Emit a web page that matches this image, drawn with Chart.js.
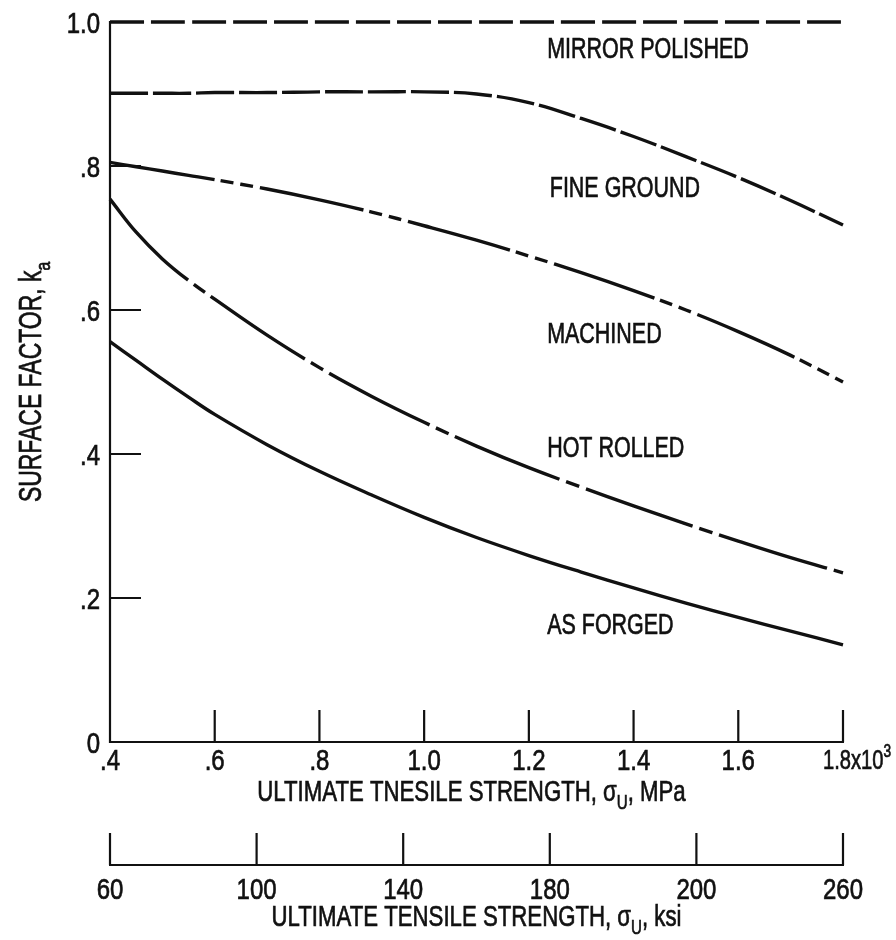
<!DOCTYPE html>
<html>
<head>
<meta charset="UTF-8">
<title>Surface factor vs ultimate tensile strength</title>
<style>
  html, body { margin: 0; padding: 0; background: #fff; }
  #wrap { width: 896px; height: 940px; }
</style>
</head>
<body>
<div id="wrap"><canvas id="surfaceChart" width="896" height="940"></canvas></div>
<script src="https://cdn.jsdelivr.net/npm/chart.js"></script>
<script>
// ultimate tensile strength, MPa x10^3
const strengthMPa = [0.4, 0.45, 0.5, 0.55, 0.6, 0.7, 0.8, 0.9, 1.0, 1.1, 1.2, 1.3, 1.4, 1.5, 1.6, 1.7, 1.8];

// surface factor k_a for each finish
const mirrorPolished = [1.0, 1.0, 1.0, 1.0, 1.0, 1.0, 1.0, 1.0, 1.0, 1.0, 1.0, 1.0, 1.0, 1.0, 1.0, 1.0, 1.0];
const fineGround = [0.901, 0.901, 0.901, 0.901, 0.902, 0.902, 0.903, 0.903, 0.903, 0.900, 0.888, 0.866, 0.841, 0.813, 0.784, 0.752, 0.718];
const machined = [0.805, 0.799, 0.793, 0.787, 0.781, 0.768, 0.753, 0.736, 0.717, 0.697, 0.675, 0.652, 0.627, 0.600, 0.570, 0.537, 0.500];
const hotRolled = [0.754, 0.708, 0.671, 0.641, 0.615, 0.565, 0.520, 0.480, 0.444, 0.411, 0.381, 0.354, 0.328, 0.303, 0.279, 0.256, 0.235];
const asForged = [0.556, 0.530, 0.504, 0.479, 0.455, 0.413, 0.376, 0.343, 0.312, 0.284, 0.259, 0.236, 0.214, 0.193, 0.173, 0.154, 0.135];

// axis ticks
const yTicks = [0, 0.2, 0.4, 0.6, 0.8, 1.0];
const yTickLabels = ['0', '.2', '.4', '.6', '.8', '1.0'];
const mpaTicks = [0.4, 0.6, 0.8, 1.0, 1.2, 1.4, 1.6, 1.8];
const mpaTickLabels = ['.4', '.6', '.8', '1.0', '1.2', '1.4', '1.6', '1.8'];
const ksiTicks = [60, 100, 140, 180, 220, 260];
const ksiTickLabels = ['60', '100', '140', '180', '200', '260'];

// curve names, written beside the curves (anchored in data units)
const curveNames = ['MIRROR POLISHED', 'FINE GROUND', 'MACHINED', 'HOT ROLLED', 'AS FORGED'];
const nameAt = [[1.235, 0.964], [1.24, 0.771], [1.235, 0.568], [1.235, 0.410], [1.235, 0.165]];

const INK = '#111';
const FONT = '"Liberation Sans", Arial, sans-serif';
let squeeze = 0.74; // the figure uses a condensed face

// draw a run of text pieces; piece = [text, kind] where kind is '', 'sub' or 'sup'
function textWidth(ctx, pieces, size) {
    let w = 0;
    pieces.forEach(p => {
        const s = p[1] ? size * 0.68 : size;
        ctx.font = s + 'px ' + FONT;
        w += ctx.measureText(p[0]).width * squeeze;
    });
    return w;
}
function drawRich(ctx, pieces, x, y, size, align) {
    const w = textWidth(ctx, pieces, size);
    let cx = align === 'center' ? x - w / 2 : (align === 'right' ? x - w : x);
    ctx.save();
    ctx.fillStyle = INK;
    ctx.strokeStyle = INK;
    ctx.lineWidth = 0.7;
    ctx.textBaseline = 'alphabetic';
    ctx.textAlign = 'left';
    const base = y + size * 0.36;
    pieces.forEach(p => {
        const s = p[1] ? size * 0.68 : size;
        const dy = p[1] === 'sub' ? size * 0.28 : (p[1] === 'sup' ? -size * 0.42 : 0);
        ctx.font = s + 'px ' + FONT;
        ctx.save();
        ctx.translate(cx, base + dy);
        ctx.scale(squeeze, 1);
        ctx.fillText(p[0], 0, 0);
        ctx.strokeText(p[0], 0, 0);
        ctx.restore();
        cx += ctx.measureText(p[0]).width * squeeze;
    });
    ctx.restore();
    return w;
}

const axesPlugin = {
    id: 'paperAxes',
    afterDatasetsDraw(chart) {
        const ctx = chart.ctx;
        const x = chart.scales.x, y = chart.scales.y, k = chart.scales.x2;
        const y0 = y.getPixelForValue(0);
        ctx.save();
        ctx.strokeStyle = INK;
        ctx.lineWidth = 2.2;
        ctx.lineCap = 'butt';

        // left axis with inward ticks
        ctx.beginPath();
        ctx.moveTo(x.left, y0 + 1);
        ctx.lineTo(x.left, y.getPixelForValue(1.0) - 1);
        yTicks.forEach(v => {
            if (v === 0 || v === 1.0) return;
            const py = y.getPixelForValue(v);
            ctx.moveTo(x.left, py);
            ctx.lineTo(x.left + 31, py);
        });
        ctx.stroke();
        squeeze = 0.8;
        yTicks.forEach((v, i) => {
            drawRich(ctx, [[yTickLabels[i], '']], x.left - 10, y.getPixelForValue(v), 30, 'right');
        });

        // MPa axis
        ctx.beginPath();
        ctx.moveTo(x.left - 1, y0);
        ctx.lineTo(x.getPixelForValue(1.8) + 1, y0);
        mpaTicks.forEach(v => {
            if (v === 0.4) return;
            const px = x.getPixelForValue(v);
            ctx.moveTo(px, y0);
            ctx.lineTo(px, y0 - 32);
        });
        ctx.stroke();
        mpaTicks.forEach((v, i) => {
            const px = x.getPixelForValue(v);
            if (i === mpaTicks.length - 1) {
                squeeze = 0.72;
                drawRich(ctx, [[mpaTickLabels[i] + 'x10', ''], ['3', 'sup']], px - 20, y0 + 17, 28, 'left');
                squeeze = 0.8;
            } else {
                drawRich(ctx, [[mpaTickLabels[i], '']], px, y0 + 17, 30, 'center');
            }
        });
        squeeze = 0.74;
        const midX = (x.left + x.right) / 2;
        drawRich(ctx, [['ULTIMATE TNESILE STRENGTH, σ', ''], ['U', 'sub'], [', MPa', '']], midX - 5, y0 + 48, 30, 'center');

        // ksi axis, set below the MPa axis
        const ky = y0 + 123;
        ctx.beginPath();
        ctx.moveTo(k.getPixelForValue(60) - 1, ky);
        ctx.lineTo(k.getPixelForValue(260) + 1, ky);
        ksiTicks.forEach(v => {
            const px = k.getPixelForValue(v);
            ctx.moveTo(px, ky);
            ctx.lineTo(px, ky - 32);
        });
        ctx.stroke();
        squeeze = 0.8;
        ksiTicks.forEach((v, i) => {
            drawRich(ctx, [[ksiTickLabels[i], '']], k.getPixelForValue(v), ky + 23, 30, 'center');
        });
        squeeze = 0.74;
        drawRich(ctx, [['ULTIMATE TENSILE STRENGTH, σ', ''], ['U', 'sub'], [', ksi', '']], midX, ky + 50, 30, 'center');

        // vertical title
        ctx.save();
        ctx.translate(30, (y.top + y.bottom) / 2);
        ctx.rotate(-Math.PI / 2);
        drawRich(ctx, [['SURFACE FACTOR, k', ''], ['a', 'sub']], 0, 0, 31, 'center');
        ctx.restore();

        // curve names
        curveNames.forEach((name, i) => {
            drawRich(ctx, [[name, '']], x.getPixelForValue(nameAt[i][0]), y.getPixelForValue(nameAt[i][1]), 29, 'left');
        });
        ctx.restore();
    }
};

function series(values) {
    return values.map((v, i) => ({ x: strengthMPa[i], y: v }));
}
function curve(label, values, dash) {
    return {
        label: label,
        data: series(values),
        borderColor: INK,
        borderWidth: 3.4,
        borderDash: dash,
        pointRadius: 0,
        fill: false,
        clip: false,
        tension: 0.4
    };
}

const ctx = document.getElementById('surfaceChart').getContext('2d');
const chart = new Chart(ctx, {
    type: 'line',
    data: {
        datasets: [
            curve('Mirror polished', mirrorPolished, [34, 7]),
            curve('Fine ground', fineGround, [38, 5]),
            curve('Machined', machined, [106, 6, 13, 7, 13, 7]),
            curve('Hot rolled', hotRolled, [113, 7, 14, 7]),
            curve('As forged', asForged, [])
        ]
    },
    options: {
        responsive: false,
        animation: false,
        devicePixelRatio: 1,
        layout: { padding: { left: 110, right: 53, top: 22, bottom: 198 } },
        plugins: { legend: { display: false }, tooltip: { enabled: false } },
        scales: {
            x: { type: 'linear', min: 0.4, max: 1.8, display: false },
            x2: { type: 'linear', min: 60, max: 260, display: false, position: 'bottom' },
            y: { type: 'linear', min: 0, max: 1.0, display: false }
        }
    },
    plugins: [axesPlugin]
});
</script>
</body>
</html>
